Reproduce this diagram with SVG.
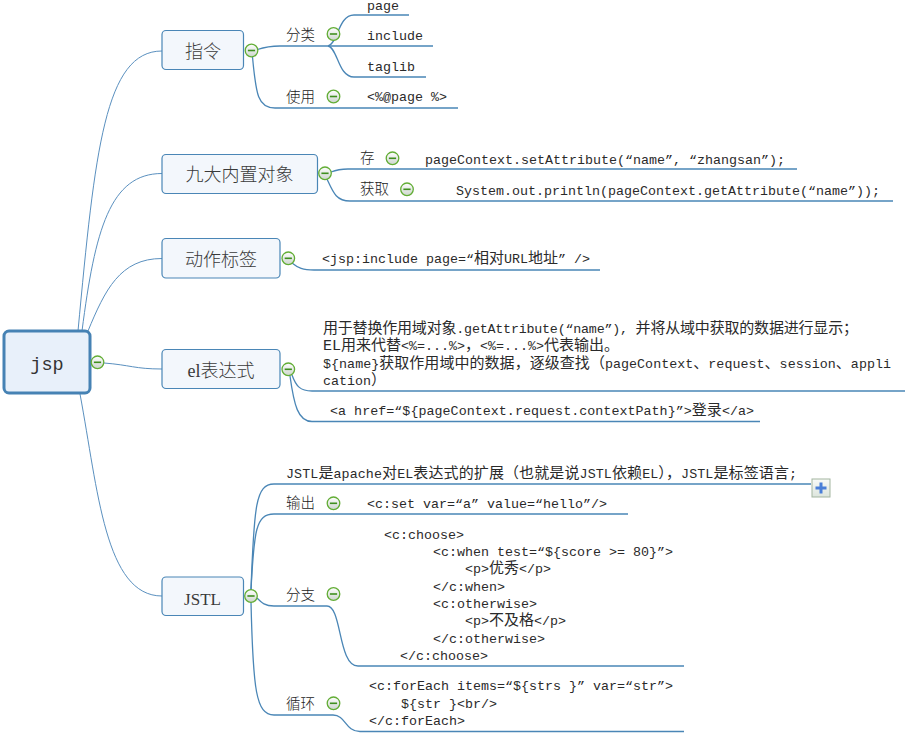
<svg xmlns="http://www.w3.org/2000/svg" width="909" height="740" viewBox="0 0 909 740">
<defs>
<linearGradient id="gc" x1="0" y1="0" x2="0" y2="1"><stop offset="0" stop-color="#ffffff"/><stop offset="1" stop-color="#cdd5cd"/></linearGradient>
<linearGradient id="gp" x1="0" y1="0" x2="0" y2="1"><stop offset="0" stop-color="#f8faf8"/><stop offset="1" stop-color="#dde5dd"/></linearGradient>
<g id="tog"><circle r="6.3" fill="url(#gc)" stroke="#62ad35" stroke-width="1.3"/><line x1="-3.6" y1="0" x2="3.6" y2="0" stroke="#3f8f1f" stroke-width="1.6"/></g>
</defs>
<style>
.br{fill:none;stroke:#5a90bf;stroke-width:1}
.ln{fill:none;stroke:#4a86b6;stroke-width:1.3}
.node{fill:#f3f7fc;stroke:#4a86b6;stroke-width:1.2}
.root{fill:#e8f0fa;stroke:#4682b4;stroke-width:3}
.nt{font-family:"Liberation Serif","Noto Sans CJK SC",serif;font-size:18px;font-weight:300;fill:#3a3a3a;text-anchor:middle}
.lb{font-family:"Noto Sans CJK SC",sans-serif;font-size:14.5px;font-weight:300;fill:#222}
.cd{font-family:"Liberation Mono","Noto Sans CJK SC",monospace;font-size:13.33px;fill:#2a2a2a}
.z{font-size:15px}
</style>
<rect width="909" height="740" fill="#ffffff"/>

<g id="connectors">
<path class="br" d="M78,331 C95,150 105,51 162,51"/>
<path class="br" d="M82,331 C95,230 110,173.5 162,173.5"/>
<path class="br" d="M88,331 C105,290 120,258.5 162,258.5"/>
<path class="br" d="M104,363 C130,365 135,369 162,369"/>
<path class="br" d="M80,394 C98,490 105,596 162,596"/>
<path class="ln" d="M257.5,49.5 C265,47 270,46 280,46 L433,46"/>
<path class="ln" d="M328,46 C338,44 338,15 354,15 L409,15"/>
<path class="ln" d="M328,46 C338,48 338,77 354,77 L426,77"/>
<path class="ln" d="M252.5,57 C256,95 258,108 275,108 L458,108"/>
<path class="ln" d="M331,172 C336,170 340,169 348,169 L797,169"/>
<path class="ln" d="M327,179 C333,192 336,201 350,201 L893,201"/>
<path class="ln" d="M292,263 C298,268 303,270 314,270 L600,270"/>
<path class="ln" d="M292,375 C296,386 300,391 312,391 L905,391"/>
<path class="ln" d="M290,376 C294,405 298,421.5 312,421.5 L760,421.5"/>
<path class="ln" d="M251,590 C254,505 256,484 274,484 L811,484"/>
<path class="ln" d="M251,590 C254,530 256,514 274,514 L628,514"/>
<path class="ln" d="M257,598 C262,603 265,606 274,606 L327,606 C342,606 338,666 358,666 L684,666"/>
<path class="ln" d="M251,602 C253,690 256,715 274,715 L333,715 C346,715 345,731.5 360,731.5 L684,731.5"/>
</g>

<g id="n-jsp">
<rect class="root" x="4" y="331" width="86" height="62" rx="5"/>
<text x="47" y="370" style="font-family:'Liberation Mono',monospace;font-size:18.5px;fill:#333;text-anchor:middle">jsp</text>
<use href="#tog" x="97.5" y="362.3"/>
</g>

<g id="n-zhiling">
<rect class="node" x="162" y="30.5" width="81.5" height="39" rx="4"/>
<text class="nt" x="203" y="58">指令</text>
<use href="#tog" x="251.5" y="50.5"/>
</g>
<g id="t-fenlei"><text class="lb" x="286" y="39.5">分类</text><use href="#tog" x="333.5" y="34"/></g>
<g id="t-page"><text class="cd" x="367" y="9.5">page</text></g>
<g id="t-include"><text class="cd" x="367" y="39.5">include</text></g>
<g id="t-taglib"><text class="cd" x="367" y="71">taglib</text></g>
<g id="t-shiyong"><text class="lb" x="286" y="101.5">使用</text><use href="#tog" x="333.5" y="96.5"/></g>
<g id="t-pagedir"><text class="cd" x="367" y="101">&lt;%@page %&gt;</text></g>

<g id="n-jiuda">
<rect class="node" x="162" y="154.5" width="155.5" height="39" rx="4"/>
<text class="nt" x="239.5" y="180.5">九大内置对象</text>
<use href="#tog" x="325" y="173.3"/>
</g>
<g id="t-cun"><text class="lb" x="360" y="163">存</text><use href="#tog" x="392.5" y="158.3"/></g>
<g id="t-set"><text class="cd" x="425" y="164" textLength="360">pageContext.setAttribute(“name”, “zhangsan”);</text></g>
<g id="t-huoqu"><text class="lb" x="360" y="194">获取</text><use href="#tog" x="407" y="189.3"/></g>
<g id="t-get"><text class="cd" x="456" y="194.5" textLength="424">System.out.println(pageContext.getAttribute(“name”));</text></g>

<g id="n-dongzuo">
<rect class="node" x="162" y="238.5" width="118" height="39.5" rx="4"/>
<text class="nt" x="221" y="265.5">动作标签</text>
<use href="#tog" x="288.3" y="258.3"/>
</g>
<g id="t-jspinclude"><text class="cd" x="322" y="263" textLength="268">&lt;jsp:include page=“<tspan class="z">相对</tspan>URL<tspan class="z">地址</tspan>” /&gt;</text></g>

<g id="n-el">
<rect class="node" x="162" y="349.5" width="118" height="39" rx="4"/>
<text class="nt" x="221" y="377">el表达式</text>
<use href="#tog" x="288.3" y="369.3"/>
</g>
<g id="t-eldesc">
<text class="cd" x="323" y="333" textLength="535"><tspan class="z">用于替换作用域对象</tspan>.getAttribute(“name”), <tspan class="z">并将从域中获取的数据进行显示；</tspan></text>
<text class="cd" x="323" y="350"><tspan class="z">EL用来代替</tspan>&lt;%=...%&gt;<tspan class="z">，</tspan>&lt;%=...%&gt;<tspan class="z">代表输出。</tspan></text>
<text class="cd" x="323" y="367.5" textLength="568">${name}<tspan class="z">获取作用域中的数据，逐级查找（</tspan>pageContext<tspan class="z">、</tspan>request<tspan class="z">、</tspan>session<tspan class="z">、</tspan>appli</text>
<text class="cd" x="323" y="384.5">cation<tspan class="z">）</tspan></text>
</g>
<g id="t-elhref"><text class="cd" x="330" y="415" textLength="424">&lt;a href=“${pageContext.request.contextPath}”&gt;<tspan class="z">登录</tspan>&lt;/a&gt;</text></g>

<g id="n-jstl">
<rect class="node" x="162" y="577" width="81.5" height="38.5" rx="4"/>
<text class="nt" x="202.5" y="605" style="font-size:17px">JSTL</text>
<use href="#tog" x="251" y="596"/>
</g>
<g id="t-jstldesc">
<text class="cd" x="286" y="478" textLength="511">JSTL<tspan class="z">是</tspan>apache<tspan class="z">对</tspan>EL<tspan class="z">表达式的扩展（也就是说</tspan>JSTL<tspan class="z">依赖</tspan>EL<tspan class="z">），</tspan>JSTL<tspan class="z">是标签语言</tspan>;</text>
<rect x="812" y="479" width="18" height="18" fill="url(#gp)" stroke="#a3b5a0" stroke-width="1"/>
<line x1="815.5" y1="488" x2="826.5" y2="488" stroke="#4a7fd8" stroke-width="3"/>
<line x1="821" y1="482.5" x2="821" y2="493.5" stroke="#4a7fd8" stroke-width="3"/>
</g>
<g id="t-shuchu"><text class="lb" x="286" y="508">输出</text><use href="#tog" x="333.5" y="503.3"/></g>
<g id="t-cset"><text class="cd" x="367" y="507.5">&lt;c:set var=“a” value=“hello”/&gt;</text></g>
<g id="t-fenzhi"><text class="lb" x="286" y="599.5">分支</text><use href="#tog" x="333.5" y="594"/></g>
<g id="t-choose">
<text class="cd" x="384" y="538.5">&lt;c:choose&gt;</text>
<text class="cd" x="433" y="556">&lt;c:when test=“${score &gt;= 80}”&gt;</text>
<text class="cd" x="465" y="573">&lt;p&gt;<tspan class="z">优秀</tspan>&lt;/p&gt;</text>
<text class="cd" x="433" y="590.5">&lt;/c:when&gt;</text>
<text class="cd" x="433" y="608">&lt;c:otherwise&gt;</text>
<text class="cd" x="465" y="625">&lt;p&gt;<tspan class="z">不及格</tspan>&lt;/p&gt;</text>
<text class="cd" x="433" y="642.5">&lt;/c:otherwise&gt;</text>
<text class="cd" x="400" y="659.5">&lt;/c:choose&gt;</text>
</g>
<g id="t-xunhuan"><text class="lb" x="286" y="708.5">循环</text><use href="#tog" x="333.5" y="703.3"/></g>
<g id="t-foreach">
<text class="cd" x="369" y="690">&lt;c:forEach items=“${strs }” var=“str”&gt;</text>
<text class="cd" x="401" y="707.5">${str }&lt;br/&gt;</text>
<text class="cd" x="369" y="724.5">&lt;/c:forEach&gt;</text>
</g>
</svg>
